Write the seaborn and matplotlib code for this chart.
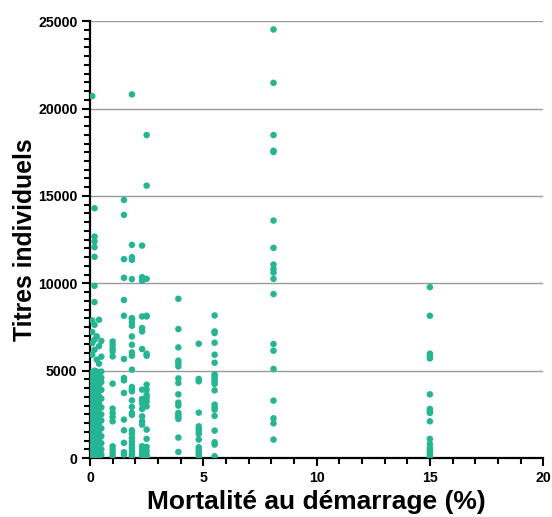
import numpy as np
import pandas as pd
import matplotlib
matplotlib.use("Agg")
import matplotlib.pyplot as plt
from matplotlib.ticker import MultipleLocator
import seaborn as sns

# mortalité au démarrage (%) -> titres individuels, lus colonne par colonne
mort_01 = [20714, 7874, 7211, 6583, 5914, 4900, 4700, 4420, 4100, 3860, 3600, 3350, 3050, 2800,
           2600, 2350, 2100, 1900, 1700, 1500, 1300, 1100, 900, 700, 500, 300, 150, 40]
mort_02 = [14297, 12674, 12389, 12068, 11514, 9857, 8926, 7628, 6771, 6200, 5000, 4800, 4550,
           4250, 3950, 3700, 3450, 3200, 2950, 2700, 2450, 2250, 2000, 1800, 1600, 1400, 1200,
           1000, 800, 600, 400, 250, 100]
mort_03 = [6960, 5629, 4950, 4650, 4300, 4000, 3750, 3500, 3250, 3000, 2750, 2500, 2200, 1950,
           1750, 1550, 1350, 1150, 950, 750, 550, 350, 200, 60]
mort_04 = [7914, 6400, 5400, 4850, 4500, 4150, 3850, 3550, 3300, 3100, 2850, 2550, 2300, 2050,
           1850, 1650, 1450, 1250, 1050, 850, 650, 450, 300, 120]
mort_05 = [6700, 5800, 4950, 4600, 4350, 3900, 3400, 2900, 2500, 2150, 1700, 1250, 850, 500, 200]
mort_1 = [6674, 6486, 6257, 6103, 5817, 4257, 2829, 2583, 2354, 2103, 674, 486, 297, 103]
mort_15 = [14771, 13914, 11383, 10314, 9040, 8143, 5669, 4583, 4446, 3726, 2200, 1589, 869,
           331, 200]
mort_18 = [20811, 12200, 11497, 11343, 10240, 8011, 7971, 7760, 7571, 6960, 6486, 6046, 5857,
           5057, 4069, 3914, 3817, 3303, 2926, 2583, 2469, 1589, 1400, 1154, 960, 771, 583,
           389, 200, 103]
mort_23 = [12160, 10354, 10143, 8103, 7440, 7246, 6240, 3914, 3383, 3246, 3114, 2811, 2389,
           2103, 1914, 674, 486, 297, 103]
mort_25 = [18486, 15588, 10257, 8143, 8103, 5971, 5857, 4200, 3914, 3629, 3440, 3246, 2960,
           1629, 1097, 640, 389, 160, 11]
mort_4 = [9114, 7383, 6331, 5571, 5440, 5246, 4560, 4297, 3646, 3171, 3000, 2583, 2486, 2354,
          2240, 1171, 354]
mort_48 = [6543, 4526, 4389, 2600, 1817, 1669, 1531, 1383, 1057, 617, 486, 331, 160, 11]
mort_55 = [8160, 7246, 7154, 6600, 5914, 5457, 4789, 4657, 4526, 4389, 4240, 3874, 3057, 2903,
           2771, 2411, 1571, 903, 771, 103]
mort_81 = [24525, 21474, 18486, 17588, 17514, 13589, 12028, 11074, 10811, 10617, 10257, 9383,
           6526, 6143, 5097, 3286, 2274, 1988, 1057]
mort_15p = [9782, 8143, 5971, 5857, 5703, 3646, 2811, 2697, 2583, 2103, 1097, 811, 583, 446,
            331, 200, 69]

groups = [(0.1, mort_01), (0.2, mort_02), (0.3, mort_03), (0.4, mort_04), (0.5, mort_05),
          (1.0, mort_1), (1.5, mort_15), (1.85, mort_18), (2.3, mort_23), (2.5, mort_25),
          (3.9, mort_4), (4.8, mort_48), (5.5, mort_55), (8.1, mort_81), (15.0, mort_15p)]

rows = []
for x, vals in groups:
    for v in vals:
        rows.append((x, v))
df = pd.DataFrame(rows, columns=["mortalite", "titre"])

sns.set_style("white")
plt.rcParams['font.family'] = ['Liberation Sans', 'DejaVu Sans']
plt.rcParams['text.color'] = 'black'
plt.rcParams['axes.labelcolor'] = 'black'
plt.rcParams['xtick.color'] = 'black'
plt.rcParams['ytick.color'] = 'black'

fig = plt.figure(figsize=(5.52, 5.17), dpi=100)
ax = fig.add_axes([0.163, 0.114, 0.821, 0.845])

sns.scatterplot(data=df, x="mortalite", y="titre", color="#25b592", s=22,
                edgecolor="none", ax=ax, zorder=3)

ax.set_xlim(0, 20)
ax.set_ylim(0, 25000)
ax.xaxis.set_major_locator(MultipleLocator(5))
ax.xaxis.set_minor_locator(MultipleLocator(1))
ax.yaxis.set_major_locator(MultipleLocator(5000))
ax.yaxis.set_minor_locator(MultipleLocator(500))

ax.yaxis.grid(True, color="#9a9a9a", linewidth=1.0, zorder=0)
ax.set_axisbelow(True)

for s in ["top", "right"]:
    ax.spines[s].set_visible(False)
for s in ["left", "bottom"]:
    ax.spines[s].set_color("black")
    ax.spines[s].set_linewidth(1.6)

ax.tick_params(which="both", bottom=True, left=True, top=False, right=False)
ax.tick_params(which="major", direction="out", length=6, width=1.5, color="black",
               labelsize=10.2, pad=3, labelcolor="black")
ax.tick_params(which="minor", direction="out", length=4, width=1.5, color="black")
for lab in ax.get_xticklabels() + ax.get_yticklabels():
    lab.set_fontweight("bold")

ax.set_xlabel("Mortalité au démarrage (%)", fontsize=19, fontweight="bold", labelpad=4)
ax.set_ylabel("Titres individuels", fontsize=17.8, fontweight="bold", labelpad=1)

fig.savefig("out.png", dpi=100)
